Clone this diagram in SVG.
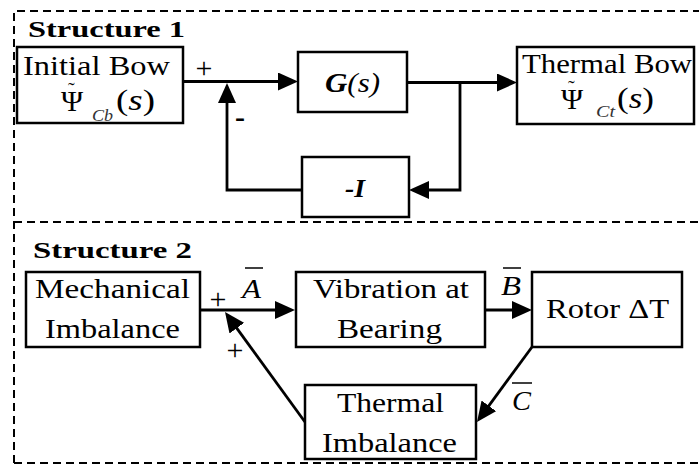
<svg xmlns="http://www.w3.org/2000/svg" width="699" height="466" viewBox="0 0 699 466">
<style>
.frame{fill:none;stroke:#000;stroke-width:2;stroke-dasharray:8 5}
.box{fill:#fff;stroke:#000;stroke-width:2.5}
.wire{fill:none;stroke:#000;stroke-width:2.8}
.bar{stroke:#000;stroke-width:1.5}
.lbl{font-size:27px}
.ttl{font-size:24px;font-weight:bold}
.math{font-size:30px}
.sub{font-size:16px;font-style:italic;fill:#333}
.it{font-style:italic}
.sign{font-size:30px}
.tl{font-size:20px}
</style>
<defs>
<marker id="ah" markerUnits="userSpaceOnUse" markerWidth="20" markerHeight="18" refX="10" refY="9" orient="auto">
<path d="M0,0 L20,9 L0,18 z" fill="#000"/>
</marker>
</defs>
<g id="frame">
<path class="frame" d="M14,463 V11 H699"/>
<path class="frame" d="M14,222 H699"/>
<path class="frame" d="M14,463 H699"/>
</g>
<g font-family="'Liberation Serif', 'Times New Roman', serif" fill="#000">
<text class="ttl" x="28" y="37" textLength="157" lengthAdjust="spacingAndGlyphs">Structure 1</text>
<text class="ttl" x="33" y="258" textLength="159" lengthAdjust="spacingAndGlyphs">Structure 2</text>

<g id="connectors">
<path class="wire" d="M183,81.5 H288" marker-end="url(#ah)"/>
<path class="wire" d="M302,190 H227 V93" marker-end="url(#ah)"/>
<path class="wire" d="M407,82.5 H507" marker-end="url(#ah)"/>
<path class="wire" d="M460,82.5 V190 H419" marker-end="url(#ah)"/>
<path class="wire" d="M200,310 H285" marker-end="url(#ah)"/>
<path class="wire" d="M305,422 L230.9,320.1" marker-end="url(#ah)"/>
<path class="wire" d="M485,310 H522" marker-end="url(#ah)"/>
<path class="wire" d="M532,347 L482.9,413.9" marker-end="url(#ah)"/>
<text class="sign" x="204" y="78" text-anchor="middle">+</text>
<text class="sign" x="240" y="127" text-anchor="middle" font-weight="bold">-</text>
<text class="sign" x="218" y="309" text-anchor="middle">+</text>
<text class="sign" x="235" y="360" text-anchor="middle">+</text>
<g id="lblA">
<text class="lbl it" x="242" y="298" textLength="19" lengthAdjust="spacingAndGlyphs">A</text>
<line class="bar" x1="245" y1="268" x2="263" y2="268"/>
</g>
<g id="lblB">
<text class="lbl it" x="501" y="295" textLength="20" lengthAdjust="spacingAndGlyphs">B</text>
<line class="bar" x1="503" y1="268" x2="521" y2="268"/>
</g>
<g id="lblC">
<text class="lbl it" x="512" y="410" textLength="19" lengthAdjust="spacingAndGlyphs">C</text>
<line class="bar" x1="512" y1="383" x2="532" y2="383"/>
</g>
</g>

<g id="initial-bow">
<rect class="box" x="17" y="47" width="166" height="76"/>
<text class="lbl" x="23" y="75" textLength="147" lengthAdjust="spacingAndGlyphs">Initial Bow</text>
<text class="math" x="61" y="111">Ψ<tspan class="tl" x="68" y="97">˜</tspan></text>
<text class="sub" x="92" y="121" textLength="21" lengthAdjust="spacingAndGlyphs">Cb</text>
<text class="math" x="116" y="110" textLength="39" lengthAdjust="spacingAndGlyphs">(<tspan class="it">s</tspan>)</text>
</g>

<g id="g-s">
<rect class="box" x="298" y="52" width="109" height="60"/>
<text x="325" y="92" font-size="28" font-style="italic" textLength="55" lengthAdjust="spacingAndGlyphs"><tspan font-weight="bold">G</tspan>(s)</text>
</g>

<g id="thermal-bow">
<rect class="box" x="517" y="47" width="177" height="77"/>
<text class="lbl" x="522" y="73" textLength="170" lengthAdjust="spacingAndGlyphs">Thermal Bow</text>
<text class="math" x="561" y="109">Ψ<tspan class="tl" x="568" y="95">˜</tspan></text>
<text class="sub" x="596" y="117" textLength="19" lengthAdjust="spacingAndGlyphs">Ct</text>
<text class="math" x="617" y="108" textLength="37" lengthAdjust="spacingAndGlyphs">(<tspan class="it">s</tspan>)</text>
</g>

<g id="neg-i">
<rect class="box" x="302" y="157" width="107" height="60"/>
<text x="345" y="197" font-size="26" font-style="italic" font-weight="bold" textLength="20" lengthAdjust="spacingAndGlyphs">-I</text>
</g>

<g id="mechanical-imbalance">
<rect class="box" x="26" y="272" width="174" height="75"/>
<text class="lbl" x="35" y="298" textLength="155" lengthAdjust="spacingAndGlyphs">Mechanical</text>
<text class="lbl" x="45" y="338" textLength="135" lengthAdjust="spacingAndGlyphs">Imbalance</text>
</g>

<g id="vibration">
<rect class="box" x="296" y="272" width="189" height="75"/>
<text class="lbl" x="313" y="298" textLength="156" lengthAdjust="spacingAndGlyphs">Vibration at</text>
<text class="lbl" x="337" y="338" textLength="105" lengthAdjust="spacingAndGlyphs">Bearing</text>
</g>

<g id="rotor">
<rect class="box" x="532" y="272" width="150" height="75"/>
<text class="lbl" x="546" y="318" textLength="123" lengthAdjust="spacingAndGlyphs">Rotor ΔT</text>
</g>

<g id="thermal-imbalance">
<rect class="box" x="305" y="385" width="171" height="74"/>
<text class="lbl" x="337" y="412" textLength="107" lengthAdjust="spacingAndGlyphs">Thermal</text>
<text class="lbl" x="322" y="452" textLength="135" lengthAdjust="spacingAndGlyphs">Imbalance</text>
</g>
</g>
</svg>
